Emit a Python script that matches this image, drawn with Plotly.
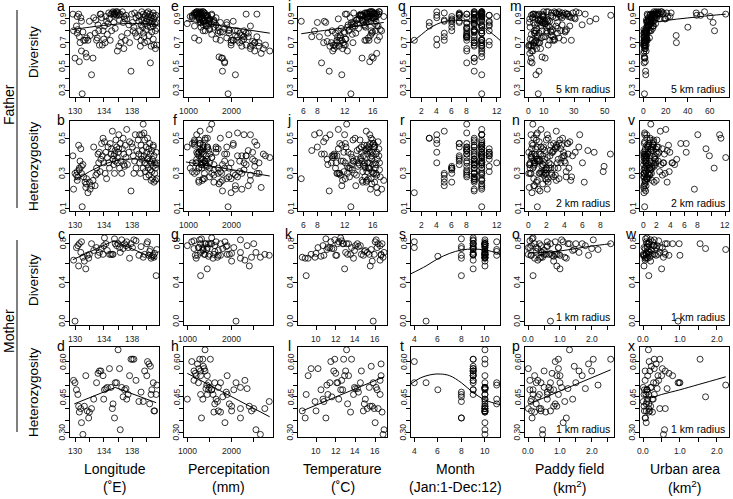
import plotly.graph_objects as go

# ---------------- Father data (one entry per individual) ----------------
father_lon = [129.7,129.8,130.0,130.2,130.3,130.4,130.5,130.6,130.6,130.8,
 130.9,130.9,131.0,131.1,131.2,131.4,131.5,131.6,131.6,131.8,
 132.0,132.1,132.3,132.5,132.6,132.8,133.0,133.1,133.3,133.4,
 133.5,133.6,133.7,133.8,133.9,134.0,134.1,134.2,134.3,134.5,
 134.6,134.7,134.8,135.0,135.1,135.2,135.3,135.4,135.4,135.5,
 135.6,135.6,135.7,135.8,135.9,136.0,136.1,136.2,136.3,136.4,
 136.5,136.6,136.7,136.8,136.9,137.0,137.1,137.3,137.5,137.6,
 137.8,138.0,138.1,138.3,138.4,138.5,138.6,138.8,138.9,139.0,
 139.1,139.2,139.3,139.3,139.4,139.5,139.5,139.6,139.7,139.7,
 139.8,139.9,139.9,140.0,140.0,140.1,140.1,140.2,140.3,140.3,
 140.4,140.4,140.5,140.5,140.6,140.6,140.7,140.7,140.8,140.8,
 140.9,140.9,141.0,141.0,141.1,141.1,141.2,141.2,141.3,141.4,
 141.4,135.5,135.9,136.1,134.9,132.9,130.3,133.2,137.2,139.2,
 140.2,139.6,141.3,138.2,136.8,140.9,130.7,134.4,137.9,139.0]
father_div = [0.94,0.80,0.57,0.84,0.78,0.81,0.94,0.54,0.75,0.91,
 0.63,0.88,0.27,0.79,0.72,0.72,0.61,0.74,0.58,0.72,
 0.88,0.76,0.43,0.57,0.91,0.78,0.72,0.74,0.80,0.68,
 0.94,0.94,0.91,0.68,0.80,0.73,0.84,0.70,0.92,0.77,
 0.86,0.95,0.90,0.94,0.80,0.95,0.96,0.93,0.87,0.95,
 0.94,0.82,0.96,0.93,0.63,0.95,0.67,0.89,0.94,0.70,
 0.75,0.96,0.87,0.65,0.90,0.72,0.93,0.78,0.85,0.70,
 0.46,0.87,0.80,0.95,0.78,0.91,0.75,0.93,0.88,0.92,
 0.67,0.85,0.96,0.89,0.83,0.94,0.78,0.91,0.86,0.70,
 0.93,0.88,0.81,0.95,0.90,0.84,0.71,0.92,0.87,0.76,
 0.94,0.89,0.83,0.53,0.91,0.67,0.86,0.79,0.93,0.88,
 0.73,0.84,0.90,0.68,0.86,0.92,0.65,0.80,0.87,0.68,
 0.82,0.94,0.96,0.93,0.72,0.89,0.92,0.85,0.90,0.72,
 0.96,0.75,0.93,0.83,0.92,0.95,0.70,0.88,0.94,0.80]
father_het = [0.40,0.21,0.30,0.29,0.31,0.28,0.46,0.33,0.32,0.44,
 0.34,0.30,0.11,0.35,0.28,0.25,0.22,0.27,0.24,0.19,
 0.25,0.21,0.23,0.26,0.45,0.23,0.33,0.30,0.36,0.42,
 0.31,0.38,0.47,0.40,0.50,0.36,0.48,0.30,0.42,0.39,
 0.45,0.36,0.33,0.41,0.44,0.54,0.38,0.40,0.35,0.30,
 0.43,0.37,0.49,0.45,0.39,0.42,0.52,0.33,0.47,0.37,
 0.30,0.44,0.50,0.41,0.34,0.46,0.39,0.35,0.42,0.48,
 0.20,0.45,0.40,0.37,0.52,0.33,0.43,0.49,0.41,0.36,
 0.30,0.46,0.52,0.38,0.43,0.58,0.33,0.40,0.49,0.36,
 0.31,0.45,0.28,0.42,0.35,0.50,0.38,0.33,0.44,0.29,
 0.47,0.37,0.32,0.41,0.26,0.36,0.43,0.31,0.38,0.27,
 0.45,0.34,0.25,0.40,0.30,0.36,0.26,0.33,0.35,0.27,
 0.36,0.41,0.36,0.44,0.47,0.29,0.26,0.41,0.55,0.40,
 0.39,0.53,0.42,0.30,0.35,0.46,0.37,0.27,0.47,0.52]
father_prec = [2350,2100,1780,2450,2200,1950,2600,1850,2300,1650,
 2550,2050,1930,1800,2150,1750,2700,1900,1720,2000,
 1600,2250,2100,1800,1450,2400,1250,1150,1350,2500,
 1200,1300,1100,2800,1400,2300,1150,2650,1250,1550,
 980,1180,1320,1220,1700,1280,1350,1420,1600,1380,
 1300,1850,1250,1450,2900,1320,2450,1500,1270,2200,
 2600,1350,1750,2750,1450,2050,1550,2350,1650,2550,
 1800,1900,2150,1380,1950,1250,2400,1150,1500,1400,
 2250,1350,1200,1450,1300,1550,1700,1250,1400,2000,
 1100,1350,1500,1200,1320,1450,2500,1050,1280,2100,
 1150,1400,1600,1850,1330,2650,1480,1750,1200,1380,
 1650,1420,1250,2350,1550,1100,2450,1950,1300,2000,
 1500,1350,1200,1450,2050,1600,1250,1900,1500,2250,
 1300,2150,1250,1700,1420,1150,2550,1350,1280,2300]
father_temp = [16.8,17.2,16.0,16.5,15.8,17.0,16.2,15.5,16.9,15.2,
 12.3,16.4,12.8,15.9,14.8,15.0,16.5,15.3,15.8,16.6,
 14.5,15.6,11.5,14.4,16.1,13.5,15.4,11.2,16.3,11.8,
 15.1,14.2,16.0,10.5,15.7,12.0,16.7,10.8,15.5,13.0,
 16.2,14.8,15.3,16.4,11.0,15.0,15.8,14.6,12.9,16.1,
 15.4,11.4,15.9,14.3,10.2,16.5,9.8,14.9,15.6,11.7,
 10.9,16.8,9.2,10.4,13.8,11.5,14.2,9.5,12.4,8.9,
 9.7,8.0,10.1,13.2,11.9,12.7,7.2,14.1,9.0,15.2,
 11.1,14.7,15.5,13.6,14.9,12.2,10.6,15.8,13.1,10.0,
 14.5,15.3,12.6,15.9,14.0,13.4,9.4,16.3,15.0,11.3,
 16.0,14.4,13.0,8.6,15.1,10.7,13.7,11.8,16.6,15.7,
 12.1,14.8,16.2,10.3,13.3,15.4,11.6,12.5,14.6,12.0,
 13.9,15.2,16.9,14.0,11.2,13.6,17.5,12.8,11.0,10.8,
 15.6,8.3,14.3,12.3,16.4,15.1,13.1,5.7,12.0,7.6]
father_month = [9,10,9,10,8,9,10,9,8,10,
 8,9,10,9,8,5,10,9,10,1,
 6,9,10,9,8,5,10,8,9,4,
 10,9,4,10,9,4,10,9,10,8,
 9,10,9,10,8,5,9,10,9,10,
 9,8,10,9,10,9,10,6,7,9,
 5,10,3,8,6,9,7,10,11,9,
 9,8,11,7,10,9,8,4,11,10,
 9,10,4,9,8,8,10,7,9,10,
 11,7,9,10,9,3,11,6,11,8,
 7,10,6,8,9,10,8,9,7,5,
 10,11,9,11,6,12,10,6,7,9,
 8,10,9,10,10,5,10,9,10,10,
 10,8,11,10,10,10,10,10,8,10]
father_paddy5 = [4.5,12,2.0,18,7,25,3.5,1.5,10,22,
 3.0,8,6.5,15,28,5,1.0,20,9,2.5,
 14,6,5.0,11,30,4,17,8.5,24,0.5,
 9,19,3,13,21,1.2,27,7.5,16,2,
 6,33,12,26,4,18,10,23,0.8,15,
 37,5.5,20,9.5,2.2,29,1.8,13,25,6,
 11,17,3.5,8,44,14,21,4.5,35,7,
 7.0,19,9,24,12,2.8,16,5,40,10,
 0.3,22,31,6.5,14,3,19,28,11,4,
 53.6,8,16,22,1,13,5,26,9,15,
 20,7.5,12,2.5,18,3.8,10,24,6,12.5,
 17,8.5,30.5,1.5,11,21,5.5,14.5,9,3.2,
 19,7,13,2,16,10,27,4.2,8,23,
 12,6,15,1.2,9.5,18,3.5,11,25,5]
father_urban5 = [3.5,1.2,0.8,5,2.2,0.5,8,1.8,0.4,6.5,
 2.5,4,1.0,3,0.9,1.5,0.3,2.8,1.1,0.6,
 9,2,2.2,1.4,12,0.7,3.6,5.5,7,0.2,
 13,10,4.5,1.6,6,2.4,8.5,0.5,22,3.2,
 11,25,7.5,17.6,1.9,14,9.5,6,4.8,18,
 8,2.6,11.5,3.8,0.6,10.5,1.3,5.2,15,2.1,
 0.9,16,3,1.7,7.2,2.9,9,0.4,4.2,1.1,
 2.0,6.8,64,12.5,3.4,5.8,1.5,8.2,3.9,10,
 0.8,4.6,13.5,2.7,40,6.2,1.2,9.8,5.5,29.7,
 48,7.8,3.1,47.5,15,4.4,1.6,60,8.8,29.5,
 74,5,6.4,0.7,11,1.9,7,2.3,51.5,4.1,
 3.3,9.2,20,0.5,6.6,24,1.4,4.9,62.7,2.6,
 8.4,12,16.5,10.2,0.9,5.1,7.4,3.7,19,2.2,
 55,1.0,13,4.3,9.4,21,0.6,3.2,7.9,2.8]
father_paddy2 = [0.8,2.1,0.3,3.0,1.4,4.2,0.5,0.2,1.9,3.6,
 0.6,1.2,1.0,2.5,4.8,0.9,0.1,3.4,1.6,0.4,
 2.2,1.1,0.7,2.0,5.6,0.6,2.9,1.5,4.1,0.05,
 1.7,3.3,0.4,2.4,3.8,0.2,4.6,1.3,2.7,0.3,
 1.0,6.0,2.0,4.4,0.8,3.1,1.8,3.9,0.1,2.6,
 6.6,1.0,3.5,1.7,0.4,5.2,0.3,2.3,4.3,1.1,
 1.9,3.0,0.6,1.4,8.4,2.5,3.7,0.7,7.3,1.2,
 1.3,3.2,1.6,4.0,2.1,0.5,2.8,0.9,9.1,1.8,
 0.05,3.7,5.7,1.2,2.4,0.5,3.3,4.9,2.0,0.7,
 8.3,1.4,2.8,3.9,0.2,2.2,0.9,4.5,1.6,2.6,
 3.4,1.3,2.1,0.4,3.1,0.7,1.8,4.2,1.0,2.2,
 3.0,1.5,6.2,0.3,1.9,3.6,1.0,2.5,1.6,0.6,
 3.2,1.2,2.3,0.35,2.8,1.7,4.7,0.7,1.4,4.0,
 2.1,1.0,2.6,0.2,1.6,3.1,0.6,1.9,4.4,0.9]
father_urban2 = [0.5,0.2,0.1,0.9,0.4,0.05,1.5,0.3,0.1,1.1,
 0.4,0.7,0.2,0.6,0.15,0.3,0.05,0.5,0.2,0.1,
 1.6,7.5,0.4,0.25,2.2,0.1,0.6,1.0,1.2,0.05,
 2.4,1.8,0.8,0.3,1.0,0.4,1.5,0.1,3.9,0.5,
 2.0,4.3,1.3,3.1,0.3,2.5,1.7,1.0,0.8,3.2,
 1.4,0.4,2.0,0.7,0.1,1.9,0.2,0.9,6.3,0.35,
 0.15,2.8,0.5,0.3,1.3,0.5,1.6,0.05,0.7,0.2,
 0.35,1.2,9.7,2.2,11.2,1.0,0.25,1.5,0.7,1.8,
 0.1,0.8,8.0,0.45,3.5,1.1,0.2,1.7,1.0,3.0,
 3.8,1.4,0.55,6.3,2.6,11.4,0.3,10.4,9.2,2.8,
 5.5,0.9,1.1,0.1,1.9,0.35,1.2,0.4,4.9,0.7,
 0.6,1.6,3.5,0.1,1.2,4.2,0.25,0.9,4.6,0.45,
 1.5,2.1,2.9,1.8,0.15,0.9,1.3,0.6,3.3,0.4,
 12.1,0.2,2.3,0.75,1.7,3.7,0.1,0.55,1.4,0.5]

# ---------------- Mother data (one entry per individual) ----------------
mother_lon = [129.8,130.0,130.2,130.4,130.5,130.6,130.8,130.9,131.1,131.3,
 131.5,131.7,132.0,132.3,132.6,133.0,133.2,133.4,133.6,133.9,
 134.1,134.3,134.5,134.8,135.0,135.2,135.3,135.5,135.6,135.8,
 136.0,136.2,136.5,136.7,136.9,137.1,137.2,137.4,137.6,137.8,
 138.0,138.2,138.9,139.5,139.7,140.0,140.1,140.3,140.5,140.6,
 140.7,140.9,141.0,141.1,141.3,141.4,138.5,139.2,136.3,131.9,
 134.0,140.4]
mother_div = [0.63,0.00,0.76,0.78,0.57,0.80,0.71,0.82,0.66,0.62,
 0.54,0.68,0.69,0.80,0.73,0.76,0.68,0.71,0.75,0.69,
 0.86,0.80,0.73,0.69,0.69,0.69,0.69,0.85,0.80,0.78,
 0.80,0.76,0.84,0.75,0.80,0.78,0.82,0.76,0.65,0.80,
 0.76,0.84,0.68,0.66,0.69,0.80,0.82,0.68,0.74,0.65,
 0.67,0.68,0.66,0.70,0.47,0.74,0.83,0.77,0.71,0.65,
 0.78,0.72]
mother_het = [0.52,0.51,0.48,0.46,0.41,0.385,0.40,0.34,0.29,0.41,
 0.54,0.39,0.385,0.40,0.44,0.51,0.55,0.56,0.56,0.54,
 0.48,0.485,0.49,0.57,0.49,0.40,0.42,0.36,0.51,0.51,
 0.65,0.57,0.49,0.45,0.48,0.485,0.44,0.46,0.54,0.61,
 0.61,0.61,0.43,0.43,0.56,0.54,0.60,0.59,0.58,0.46,
 0.48,0.51,0.39,0.39,0.46,0.50,0.52,0.47,0.31,0.36,
 0.44,0.42]
mother_prec = [2300,2100,2050,1900,2400,1750,2200,1850,2650,2000,
 1450,1700,1600,2500,1350,1250,1180,1300,1150,1900,
 1550,1420,1700,1380,1500,2750,1950,1320,1480,1620,
 1400,1260,2200,1800,1550,2350,1650,1450,1200,1520,
 1350,1280,2850,1680,1400,1300,1100,1230,1360,1580,
 1480,1750,2450,2000,1300,1440,1150,1880,2550,2200,
 1000,1620]
mother_temp = [16.5,15.8,16.2,16.5,15.5,16.7,15.2,16.0,16.8,15.7,
 12.9,14.8,13.5,16.3,15.0,11.4,12.0,13.0,11.8,16.6,
 12.5,14.2,13.9,9.5,15.4,15.9,13.2,11.0,12.2,14.5,
 13.1,10.2,16.1,11.6,12.7,14.0,12.3,11.2,9.2,12.8,
 13.6,11.9,10.8,9.9,14.6,13.3,11.5,16.6,15.6,13.8,
 10.5,12.1,8.6,10.0,9.0,11.1,12.6,14.3,16.9,8.9,
 10.7,14.9]
mother_month = [9,5,9,9,10,10,10,10,10,10,
 9,10,10,10,10,4,9,9,9,9,
 9,10,10,9,10,10,10,8,9,10,
 10,9,10,8,10,10,11,10,10,9,
 10,9,8,10,9,9,4,10,9,10,
 6,11,10,10,8,11,9,8,10,8,
 10,11]
mother_paddy1 = [0.3,0.7,0.05,0.6,0.9,0.2,0.4,1.1,0.45,0.8,
 1.0,0.1,0.55,0.35,1.4,0.25,0.75,1.6,2.0,0.9,
 0.15,1.25,0.5,0.95,0.65,0.0,0.85,0.12,1.5,0.4,
 1.3,0.0,1.05,0.3,0.7,1.8,0.6,0.95,0.2,2.6,
 0.95,2.05,0.08,1.15,0.5,1.7,0.85,1.9,1.45,0.35,
 0.8,1.0,0.4,0.7,0.15,2.2,0.05,0.6,0.45,1.2,
 0.1,0.25]
mother_urban1 = [0.05,0.95,0.1,0.3,0.02,0.15,0.45,0.08,0.55,0.2,
 0.5,0.03,0.25,0.6,0.12,0.35,0.7,0.18,0.05,0.4,
 0.1,0.65,0.22,0.3,0.0,0.15,0.08,0.06,0.98,0.28,
 0.14,0.52,0.2,1.7,0.1,0.38,0.25,0.02,0.12,1.55,
 0.45,0.3,0.0,0.1,0.6,0.8,0.16,0.35,0.22,0.07,
 0.03,1.0,0.18,0.08,0.15,2.25,0.42,0.11,0.58,0.05,
 0.27,0.15]

# ---------------- fitted curves ----------------
fit_a_x = [129.6, 132, 134, 136, 138, 140, 141.4]
fit_a_y = [0.81, 0.83, 0.845, 0.857, 0.862, 0.858, 0.85]
fit_b_x = [129.9, 131, 132, 133, 134, 135, 136, 137, 138, 139, 140, 141.4]
fit_b_y = [0.26, 0.285, 0.31, 0.33, 0.35, 0.365, 0.375, 0.38, 0.382, 0.38, 0.372, 0.358]
fit_c_x = [129.7, 135.4, 141.3]
fit_c_y = [0.635, 0.83, 0.64]
fit_d_x = [129.9, 135.6, 141.3]
fit_d_y = [0.42, 0.49, 0.425]
fit_e_x = [950, 2900]
fit_e_y = [0.885, 0.78]
fit_f_x = [950, 2900]
fit_f_y = [0.365, 0.285]
fit_h_x = [1000, 2860]
fit_h_y = [0.55, 0.365]
fit_i_x = [5.7, 8, 10, 12, 14, 16, 17.5]
fit_i_y = [0.775, 0.795, 0.81, 0.825, 0.842, 0.858, 0.87]
fit_l_x = [8.6, 16.9]
fit_l_y = [0.39, 0.535]
fit_q_x = [0.56, 1, 2, 3, 4, 5, 6, 7, 8, 9, 10, 11, 12, 12.44]
fit_q_y = [0.70, 0.72, 0.77, 0.82, 0.855, 0.877, 0.887, 0.888, 0.882, 0.868, 0.84, 0.795, 0.745, 0.72]
fit_s_x = [3.72, 5, 6, 7, 8, 9, 10, 11, 11.28]
fit_s_y = [0.49, 0.57, 0.645, 0.70, 0.735, 0.745, 0.735, 0.705, 0.69]
fit_t_x = [3.72, 4.5, 5.5, 6.2, 7, 8, 9, 10, 11, 11.28]
fit_t_y = [0.505, 0.53, 0.545, 0.547, 0.54, 0.51, 0.468, 0.437, 0.42, 0.417]
fit_o_x = [0.0, 0.5, 1.0, 1.5, 2.0, 2.6]
fit_o_y = [0.705, 0.71, 0.725, 0.75, 0.775, 0.80]
fit_p_x = [0.0, 2.6]
fit_p_y = [0.418, 0.565]
fit_u_x = [0, 2, 5, 10, 20, 30, 40, 50, 60, 74]
fit_u_y = [0.84, 0.85, 0.862, 0.872, 0.886, 0.898, 0.908, 0.918, 0.928, 0.94]
fit_x_x = [0.0, 0.15, 0.5, 1.0, 1.5, 2.25]
fit_x_y = [0.455, 0.445, 0.46, 0.48, 0.502, 0.535]

# ---------------- labels ----------------
row_labels = ["Diversity", "Heterozygosity", "Diversity", "Heterozygosity"]
group_labels = ["Father", "Mother"]
col_label1 = ["Longitude", "Percepitation", "Temperature", "Month", "Paddy field", "Urban area"]
col_label2 = ["(˚E)", "(mm)", "(˚C)", "(Jan:1-Dec:12)", "(km<sup>2</sup>)", "(km<sup>2</sup>)"]
letters = [["a", "e", "i", "q", "m", "u"],
           ["b", "f", "j", "r", "n", "v"],
           ["c", "g", "k", "s", "o", "w"],
           ["d", "h", "l", "t", "p", "x"]]
radius_text = [["", "", "", "", "5 km radius", "5 km radius"],
               ["", "", "", "", "2 km radius", "2 km radius"],
               ["", "", "", "", "1 km radius", "1 km radius"],
               ["", "", "", "", "1 km radius", "1 km radius"]]

# ---------------- geometry ----------------
W, H = 733, 499
col_left = [70, 184, 298, 411, 525, 640]
row_top = [7, 121, 235, 347]
PW, PH = 89, 90
FONT = "Liberation Sans, Arial, Helvetica, sans-serif"
TICKFONT = dict(size=8.5, color="#222", family=FONT)


def fmt(vals, shown, f):
    return vals, [(f % v) if s else "" for v, s in zip(vals, shown)]

lon_t = fmt([130, 132, 134, 136, 138, 140], [1, 0, 1, 0, 1, 0], "%d")
prec_t = fmt([1000, 1500, 2000, 2500], [1, 0, 1, 0], "%d")
tempF_t = fmt([6, 8, 10, 12, 14, 16], [1, 1, 0, 1, 0, 1], "%d")
tempM_t = fmt([10, 12, 14, 16], [1, 1, 1, 1], "%d")
monF_t = fmt([2, 4, 6, 8, 10, 12], [1, 1, 1, 1, 0, 1], "%d")
monM_t = fmt([4, 6, 8, 10], [1, 1, 1, 1], "%d")
p5_t = fmt([0, 10, 20, 30, 40, 50], [1, 1, 0, 1, 0, 1], "%d")
p2_t = fmt([0, 2, 4, 6, 8], [1, 1, 1, 1, 1], "%d")
p1_t = fmt([0, 0.5, 1.0, 1.5, 2.0, 2.5], [1, 0, 1, 0, 1, 0], "%.1f")
u5_t = fmt([0, 20, 40, 60], [1, 1, 1, 1], "%d")
u2_t = fmt([0, 2, 4, 6, 8, 10, 12], [1, 1, 1, 1, 1, 0, 1], "%d")
u1_t = fmt([0, 0.5, 1.0, 1.5, 2.0], [1, 0, 1, 0, 1], "%.1f")

divF_t = fmt([0.3, 0.4, 0.5, 0.6, 0.7, 0.8, 0.9], [1, 0, 1, 0, 1, 0, 1], "%.1f")
hetF_t = fmt([0.1, 0.2, 0.3, 0.4, 0.5], [1, 0, 1, 0, 1], "%.1f")
divM_t = fmt([0.0, 0.2, 0.4, 0.6, 0.8], [1, 0, 1, 0, 1], "%.1f")
hetM_t = fmt([0.30, 0.35, 0.40, 0.45, 0.50, 0.55, 0.60], [1, 0, 0, 1, 0, 0, 1], "%.2f")

xspec = [
    [(father_lon, [129.3, 141.7], lon_t), (father_prec, [905, 2975], prec_t),
     (father_temp, [5.23, 17.97], tempF_t), (father_month, [0.56, 12.44], monF_t),
     (father_paddy5, [-2.1, 55.7], p5_t), (father_urban5, [-3.0, 77.0], u5_t)],
    [(father_lon, [129.3, 141.7], lon_t), (father_prec, [905, 2975], prec_t),
     (father_temp, [5.23, 17.97], tempF_t), (father_month, [0.56, 12.44], monF_t),
     (father_paddy2, [-0.37, 9.5], p2_t), (father_urban2, [-0.484, 12.58], u2_t)],
    [(mother_lon, [129.3, 141.7], lon_t), (mother_prec, [925, 2935], prec_t),
     (mother_temp, [8.17, 17.2], tempM_t), (mother_month, [3.72, 11.28], monM_t),
     (mother_paddy1, [-0.104, 2.704], p1_t), (mother_urban1, [-0.09, 2.34], u1_t)],
    [(mother_lon, [129.3, 141.7], lon_t), (mother_prec, [925, 2935], prec_t),
     (mother_temp, [8.17, 17.2], tempM_t), (mother_month, [3.72, 11.28], monM_t),
     (mother_paddy1, [-0.104, 2.704], p1_t), (mother_urban1, [-0.09, 2.34], u1_t)],
]
yspec = [(father_div, [0.243, 1.0], divF_t), (father_het, [0.086, 0.598], hetF_t),
         (mother_div, [-0.04, 0.89], divM_t), (mother_het, [0.279, 0.662], hetM_t)]

fits = {
    "a": (fit_a_x, fit_a_y, "spline"), "b": (fit_b_x, fit_b_y, "spline"),
    "c": (fit_c_x, fit_c_y, "linear"), "d": (fit_d_x, fit_d_y, "linear"),
    "e": (fit_e_x, fit_e_y, "linear"), "f": (fit_f_x, fit_f_y, "linear"),
    "h": (fit_h_x, fit_h_y, "linear"), "i": (fit_i_x, fit_i_y, "spline"),
    "l": (fit_l_x, fit_l_y, "linear"), "q": (fit_q_x, fit_q_y, "spline"),
    "s": (fit_s_x, fit_s_y, "spline"), "t": (fit_t_x, fit_t_y, "spline"),
    "o": (fit_o_x, fit_o_y, "spline"), "p": (fit_p_x, fit_p_y, "linear"),
    "u": (fit_u_x, fit_u_y, "spline"), "x": (fit_x_x, fit_x_y, "spline"),
}

fig = go.Figure()
layout = dict(width=W, height=H, margin=dict(l=0, r=0, t=0, b=0),
              paper_bgcolor="white", plot_bgcolor="white", showlegend=False,
              font=dict(family=FONT, color="#111"))
annotations = []
shapes = []

for r in range(4):
    for c in range(6):
        n = r * 6 + c + 1
        sfx = "" if n == 1 else str(n)
        xd, xr, (xtv, xtt) = xspec[r][c]
        yd, yr, (ytv, ytt) = yspec[r]
        L = col_left[c]
        T = row_top[r]
        common = dict(showline=True, mirror=True, linecolor="black", linewidth=1,
                      ticks="outside", ticklen=4, tickwidth=1, tickcolor="black",
                      showgrid=False, zeroline=False, fixedrange=True,
                      tickmode="array", showticklabels=False)
        layout["xaxis" + sfx] = dict(domain=[L / W, (L + PW) / W], range=xr,
                                     tickvals=xtv, anchor="y" + sfx, **common)
        layout["yaxis" + sfx] = dict(domain=[1 - (T + PH) / H, 1 - T / H], range=yr,
                                     tickvals=ytv, anchor="x" + sfx, **common)
        for v, t in zip(xtv, xtt):
            if t:
                annotations.append(dict(text=t, x=v, xref="x" + sfx, y=1 - (T + PH + 14) / H,
                                        yref="paper", xanchor="center", yanchor="middle",
                                        showarrow=False, font=TICKFONT))
        for v, t in zip(ytv, ytt):
            if t:
                annotations.append(dict(text=t, y=v, yref="y" + sfx, x=(L - 7.5) / W,
                                        xref="paper", xanchor="center", yanchor="middle",
                                        textangle=-90, showarrow=False, font=TICKFONT))
        fig.add_trace(go.Scatter(x=xd, y=yd, mode="markers", xaxis="x" + sfx, yaxis="y" + sfx,
                                 marker=dict(symbol="circle-open", size=6, color="black",
                                             line=dict(width=0.8, color="black")),
                                 hoverinfo="skip"))
        let = letters[r][c]
        if let in fits:
            fx, fy, shp = fits[let]
            fig.add_trace(go.Scatter(x=fx, y=fy, mode="lines", xaxis="x" + sfx, yaxis="y" + sfx,
                                     line=dict(color="black", width=1, shape=shp),
                                     hoverinfo="skip"))
        annotations.append(dict(text=let, x=(L - 9) / W, y=1 - (T - 1) / H, xref="paper",
                                yref="paper", xanchor="center", yanchor="middle",
                                showarrow=False, font=dict(size=14, color="black", family=FONT)))
        if radius_text[r][c]:
            annotations.append(dict(text=radius_text[r][c], x=(L + PW - 2) / W,
                                    y=1 - (T + PH - 8) / H, xref="paper", yref="paper",
                                    xanchor="right", yanchor="middle", showarrow=False,
                                    font=dict(size=10.5, color="black", family=FONT)))

for r in range(4):
    annotations.append(dict(text=row_labels[r], x=33 / W, y=1 - (row_top[r] + PH / 2) / H,
                            xref="paper", yref="paper", textangle=-90, showarrow=False,
                            xanchor="center", yanchor="middle",
                            font=dict(size=13.5, color="black", family=FONT)))
for g, (yc, y0, y1) in enumerate([(105, 10, 208), (331, 240, 432)]):
    annotations.append(dict(text=group_labels[g], x=9 / W, y=1 - yc / H, xref="paper",
                            yref="paper", textangle=-90, showarrow=False,
                            xanchor="center", yanchor="middle",
                            font=dict(size=14, color="black", family=FONT)))
    shapes.append(dict(type="line", xref="paper", yref="paper", x0=17 / W, x1=17 / W,
                       y0=1 - y0 / H, y1=1 - y1 / H, line=dict(color="black", width=1)))
for c in range(6):
    xc = (col_left[c] + PW / 2) / W
    annotations.append(dict(text=col_label1[c], x=xc, y=1 - 469 / H, xref="paper", yref="paper",
                            showarrow=False, xanchor="center", yanchor="middle",
                            font=dict(size=14, color="black", family=FONT)))
    annotations.append(dict(text=col_label2[c], x=xc, y=1 - 487 / H, xref="paper", yref="paper",
                            showarrow=False, xanchor="center", yanchor="middle",
                            font=dict(size=14, color="black", family=FONT)))

layout["annotations"] = annotations
layout["shapes"] = shapes
fig.update_layout(**layout)
fig.write_html("out.html", include_plotlyjs=True, config={"displayModeBar": False},
               post_script="document.body.style.margin='0';document.body.style.overflow='hidden';")
